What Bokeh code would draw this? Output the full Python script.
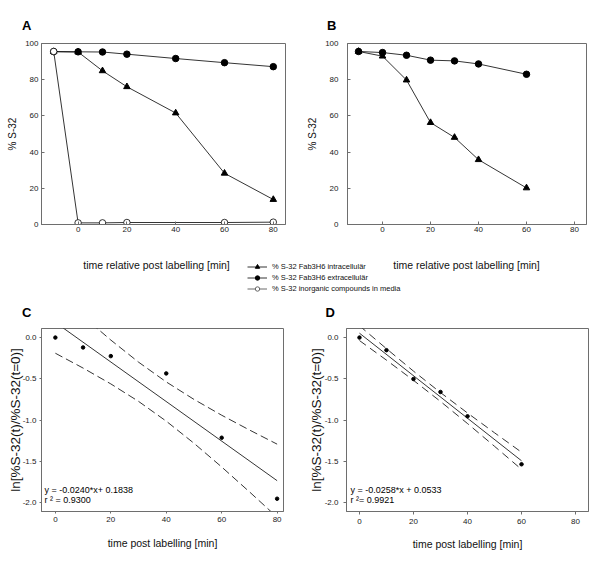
from bokeh.plotting import figure
from bokeh.layouts import column, row
from bokeh.models import Range1d, FixedTicker, Label, Legend, LegendItem, NumeralTickFormatter
from bokeh.embed import file_html
from bokeh.resources import INLINE

FONT = "Liberation Sans"

# ---------------- data ----------------
# Panel A
a_time = [-10, 0, 10, 20, 40, 60, 80]
a_intra = [95.5, 95.3, 84.9, 76.1, 61.6, 28.3, 13.8]
a_extra = [95.5, 95.4, 95.3, 94.1, 91.7, 89.4, 87.2]
a_inorg_time = [-10, 0, 10, 20, 60, 80]
a_inorg = [95.6, 0.9, 0.9, 1.1, 1.1, 1.3]

# Panel B
b_time = [-10, 0, 10, 20, 30, 40, 60]
b_intra = [95.6, 93.0, 79.8, 56.3, 48.1, 35.8, 20.2]
b_extra = [95.6, 95.0, 93.5, 90.8, 90.4, 88.7, 83.0]

# Panel C
c_time = [0, 10, 20, 40, 60, 80]
c_ln = [0.0, -0.12, -0.225, -0.435, -1.215, -1.955]
c_slope, c_intercept = -0.0240, 0.1838
c_fit_x = [0, 80]
c_band_x = [0, 10, 20, 30, 40, 50, 60, 70, 80]
c_upper = [0.558, 0.258, -0.030, -0.298, -0.538, -0.750, -0.942, -1.121, -1.293]
c_lower = [-0.190, -0.370, -0.562, -0.774, -1.014, -1.282, -1.570, -1.871, -2.179]

# Panel D
d_time = [0, 10, 20, 30, 40, 60]
d_ln = [0.0, -0.153, -0.503, -0.66, -0.955, -1.537]
d_slope, d_intercept = -0.0258, 0.0533
d_fit_x = [0, 60]
d_band_x = [0, 10, 20, 30, 40, 50, 60]
d_upper = [0.143, -0.135, -0.407, -0.667, -0.915, -1.155, -1.391]
d_lower = [-0.036, -0.274, -0.519, -0.775, -1.043, -1.319, -1.599]

x_ticks = [0, 20, 40, 60, 80]
pct_ticks = [0, 20, 40, 60, 80, 100]
ln_ticks = [0.0, -0.5, -1.0, -1.5, -2.0]

panel_letters = ["A", "B", "C", "D"]
legend_labels = ["% S-32 Fab3H6 intracellulär",
                 "% S-32 Fab3H6 extracellulär",
                 "% S-32 inorganic compounds in media"]
xlabel_top = "time relative post labelling [min]"
xlabel_bottom = "time post labelling [min]"
ylabel_top = "% S-32"
ylabel_bottom = "ln[%S-32(t)/%S-32(t=0)]"
eq_c = ["y =  -0.0240*x+ 0.1838", "r ² = 0.9300"]
eq_d = ["y = -0.0258*x + 0.0533", "r ²= 0.9921"]

FRAME_COL = "#6e6e6e"


def make_panel(width, height, xr, yr, mb, tick_in, tick_out, xstand, ystand, ylabel_stand):
    p = figure(width=width, height=height, x_range=Range1d(*xr), y_range=Range1d(*yr),
               toolbar_location=None, output_backend="svg",
               min_border_left=mb[0], min_border_right=mb[1],
               min_border_top=mb[2], min_border_bottom=mb[3])
    p.grid.visible = False
    p.outline_line_color = FRAME_COL
    p.outline_line_width = 1
    p.background_fill_color = "white"
    p.border_fill_color = "white"
    for ax in p.axis:
        ax.axis_line_color = FRAME_COL
        ax.major_tick_line_color = FRAME_COL
        ax.minor_tick_line_color = None
        ax.major_tick_in = tick_in
        ax.major_tick_out = tick_out
        ax.major_label_text_font = FONT
        ax.major_label_text_font_size = "8px"
        ax.major_label_text_color = "#1a1a1a"
        ax.axis_label_text_font = FONT
        ax.axis_label_text_font_style = "normal"
        ax.axis_label_text_color = "#111111"
    p.xaxis.major_label_standoff = xstand
    p.yaxis.major_label_standoff = ystand
    p.yaxis.axis_label_standoff = ylabel_stand
    p.xaxis.ticker = FixedTicker(ticks=x_ticks)
    return p


def strip_fig(height, y0, y1):
    s = figure(width=600, height=height, x_range=Range1d(0, 600), y_range=Range1d(y1, y0),
               toolbar_location=None, output_backend="svg", min_border=0,
               x_axis_location=None, y_axis_location=None, outline_line_color=None)
    s.grid.visible = False
    return s


def letter(s, txt, x, y):
    s.add_layout(Label(x=x, y=y, text=txt, text_font=FONT, text_font_style="bold",
                       text_font_size="13px", text_color="black", text_baseline="alphabetic"))


# ---------------- top strip with panel letters A, B ----------------
top = strip_fig(35, 0, 35)
letter(top, panel_letters[0], 21.5, 25)
letter(top, panel_letters[1], 326.5, 25)

# ---------------- Panel A ----------------
pA = make_panel(300, 215, (-15, 85), (0, 100), (41, 15, 8, 26), 3, 0, 2, 3, 4)
pA.yaxis.ticker = FixedTicker(ticks=pct_ticks)
pA.yaxis.axis_label = ylabel_top
pA.yaxis.axis_label_text_font_size = "10px"
pA.line(a_time, a_intra, line_color="black", line_width=0.8)
pA.line(a_time, a_extra, line_color="black", line_width=0.8)
pA.line(a_inorg_time, a_inorg, line_color="black", line_width=0.8)
pA.scatter(a_time, a_intra, marker="triangle", size=6.5, color="black")
pA.scatter(a_time, a_extra, marker="circle", size=6.5, color="black")
pA.scatter(a_inorg_time, a_inorg, marker="circle", size=6.5, fill_color="white", line_color="black", line_width=0.8)

# ---------------- Panel B ----------------
pB = make_panel(300, 215, (-14.6, 85), (0, 100), (47, 14, 8, 26), 3, 0, 2, 9, 4)
pB.yaxis.ticker = FixedTicker(ticks=pct_ticks)
pB.yaxis.axis_label = ylabel_top
pB.yaxis.axis_label_text_font_size = "10px"
pB.line(b_time, b_intra, line_color="black", line_width=0.8)
pB.line(b_time, b_extra, line_color="black", line_width=0.8)
pB.scatter(b_time, b_intra, marker="triangle", size=6.5, color="black")
pB.scatter(b_time, b_extra, marker="circle", size=6.5, color="black")

# ---------------- middle strip: x labels, legend, letters C, D ----------------
mid = strip_fig(75, 250, 325)
for xc, txt in [(156, xlabel_top), (466, xlabel_top)]:
    mid.add_layout(Label(x=xc, y=264.5, text=txt, text_align="center", text_baseline="middle",
                         text_font=FONT, text_font_size="10.5px", text_color="#111111"))
r1l = mid.line([0, 1], [0, 1], line_color="black", line_width=0.8)
r1s = mid.scatter([0], [0], marker="triangle", size=5.5, color="black")
r2l = mid.line([0, 1], [0, 1], line_color="black", line_width=0.8)
r2s = mid.scatter([0], [0], marker="circle", size=5, color="black")
r3l = mid.line([0, 1], [0, 1], line_color="#444444", line_width=0.8)
r3s = mid.scatter([0], [0], marker="circle", size=5, fill_color="white", line_color="#444444", line_width=0.8)
legend = Legend(items=[LegendItem(label=legend_labels[0], renderers=[r1l, r1s]),
                       LegendItem(label=legend_labels[1], renderers=[r2l, r2s]),
                       LegendItem(label=legend_labels[2], renderers=[r3l, r3s])],
                location=(247, 31), glyph_width=20, glyph_height=11, label_height=11,
                spacing=0, padding=0, margin=0, label_standoff=5,
                border_line_color=None, background_fill_alpha=0,
                label_text_font=FONT, label_text_font_size="7.5px", label_text_color="#111111")
mid.add_layout(legend, "center")
letter(mid, panel_letters[2], 21.5, 312)
letter(mid, panel_letters[3], 325, 312)

# ---------------- Panel C ----------------
pC = make_panel(300, 239, (-5, 82.3), (-2.11, 0.11), (41, 17, 3, 53), 0, 2, 3, 3, -3)
pC.yaxis.ticker = FixedTicker(ticks=ln_ticks)
pC.yaxis.formatter = NumeralTickFormatter(format="0.0")
pC.yaxis.axis_label = ylabel_bottom
pC.yaxis.axis_label_text_font_size = "13.5px"
pC.xaxis.axis_label = xlabel_bottom
pC.xaxis.axis_label_text_font_size = "10.5px"
pC.xaxis.axis_label_standoff = 12
pC.line(c_fit_x, [c_slope * x + c_intercept for x in c_fit_x], line_color="black", line_width=0.8)
pC.line(c_band_x, c_upper, line_color="black", line_width=0.8, line_dash="8 4")
pC.line(c_band_x, c_lower, line_color="black", line_width=0.8, line_dash="8 4")
pC.scatter(c_time, c_ln, marker="circle", size=3.5, color="black")
pC.add_layout(Label(x=3, y=17, x_units="screen", y_units="screen", text=eq_c[0],
                    text_font=FONT, text_font_size="9px", text_color="black"))
pC.add_layout(Label(x=3, y=7, x_units="screen", y_units="screen", text=eq_c[1],
                    text_font=FONT, text_font_size="9px", text_color="black"))

# ---------------- Panel D ----------------
pD = make_panel(300, 239, (-4.8, 84.8), (-2.11, 0.11), (46, 12, 3, 53), 0, 3, 4, 5, -2)
pD.yaxis.ticker = FixedTicker(ticks=ln_ticks)
pD.yaxis.formatter = NumeralTickFormatter(format="0.0")
pD.yaxis.axis_label = ylabel_bottom
pD.yaxis.axis_label_text_font_size = "13.5px"
pD.xaxis.axis_label = xlabel_bottom
pD.xaxis.axis_label_text_font_size = "10.5px"
pD.xaxis.axis_label_standoff = 11
pD.line(d_fit_x, [d_slope * x + d_intercept for x in d_fit_x], line_color="black", line_width=0.8)
pD.line(d_band_x, d_upper, line_color="black", line_width=0.8, line_dash="8 5")
pD.line(d_band_x, d_lower, line_color="black", line_width=0.8, line_dash="8 5")
pD.scatter(d_time, d_ln, marker="circle", size=3.5, color="black")
pD.add_layout(Label(x=4, y=17, x_units="screen", y_units="screen", text=eq_d[0],
                    text_font=FONT, text_font_size="9px", text_color="black"))
pD.add_layout(Label(x=4, y=7, x_units="screen", y_units="screen", text=eq_d[1],
                    text_font=FONT, text_font_size="9px", text_color="black"))

layout = column(top, row(pA, pB), mid, row(pC, pD))
open("out.html", "w").write(file_html(layout, INLINE))
